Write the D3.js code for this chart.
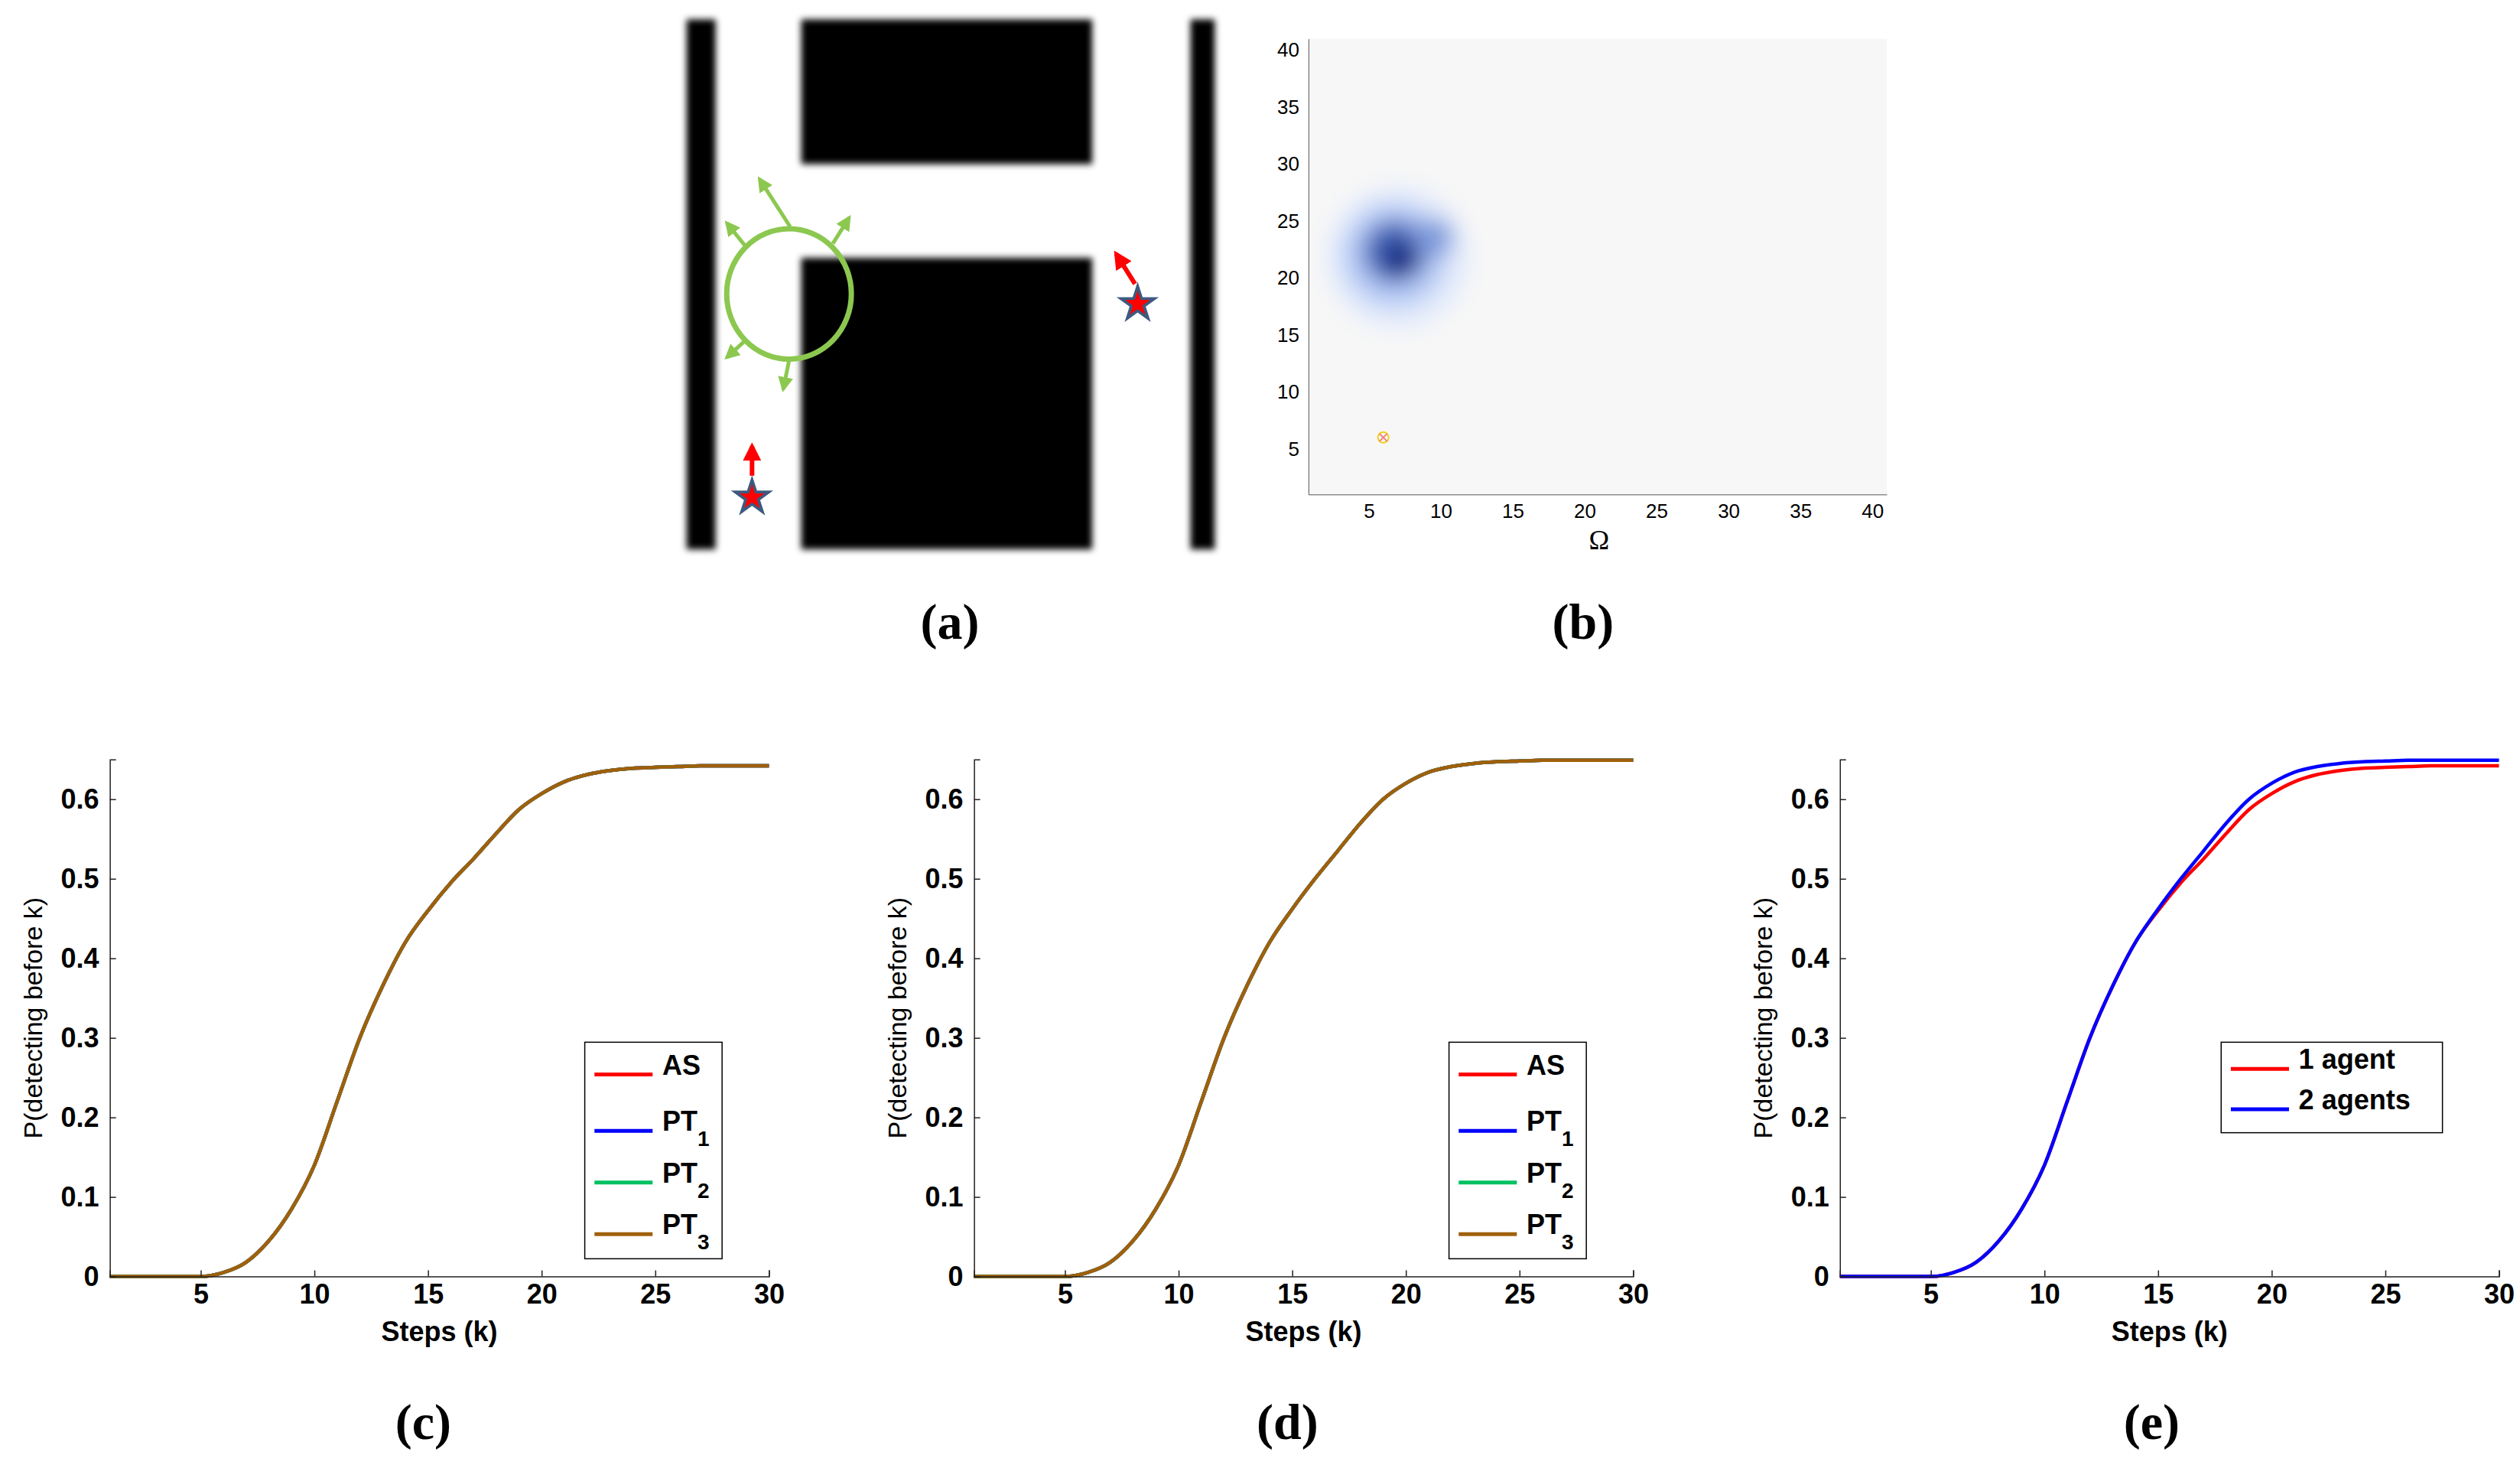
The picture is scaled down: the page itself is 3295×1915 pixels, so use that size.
<!DOCTYPE html>
<html><head><meta charset="utf-8">
<script src="https://cdn.jsdelivr.net/npm/d3@7"></script>
<style>body{margin:0;background:#fff}</style>
</head><body>
<script>
// scale from the reference thumbnail to the page
const S = 3295 / 1560;

const steps = d3.range(1, 31);
const oneAgent = [0,0,0,0,0,0.005,0.018,0.045,0.085,0.14,0.22,0.30,0.365,0.42,0.46,0.495,0.525,0.557,0.587,0.607,0.622,0.631,0.636,0.639,0.640,0.641,0.642,0.642,0.642,0.642];
const twoAgents = [0,0,0,0,0,0.005,0.018,0.045,0.085,0.14,0.22,0.30,0.365,0.42,0.462,0.50,0.535,0.57,0.60,0.62,0.634,0.641,0.645,0.647,0.648,0.649,0.649,0.649,0.649,0.649];
const seriesNames = ["AS", "PT", "PT", "PT"];
const seriesSubs = ["", "1", "2", "3"];
const seriesColors = ["#ff0000", "#0000ff", "#00c060", "#a0600a"];
const xTicks = [5, 10, 15, 20, 25, 30];
const yTicks = [0, 0.1, 0.2, 0.3, 0.4, 0.5, 0.6];
const mapTicks = [5, 10, 15, 20, 25, 30, 35, 40];
// belief blobs in panel b: [x, y, radius, colour]
const blobs = [[7,21.8,5.0,"#e3ebfb"],[6.8,22,3.6,"#b3c8f4"],[6.8,22.3,2.2,"#4466b8"],[7.2,21.8,1.2,"#122a80"],[9.5,23.5,1.4,"#7f9bdc"]];
const panelLabels = [["(a)",588,385],["(b)",980,385],["(c)",262,880],["(d)",797,880],["(e)",1332,880]];

const svg = d3.select("body").append("svg").attr("width", 3295).attr("height", 1915);
const defs = svg.append("defs");
defs.append("filter").attr("id","soft").append("feGaussianBlur").attr("stdDeviation", 4);
defs.append("filter").attr("id","blob").append("feGaussianBlur").attr("stdDeviation", 14);
defs.append("marker").attr("id","ga").attr("viewBox","0 0 10 10").attr("refX",8).attr("refY",5)
  .attr("markerWidth",4).attr("markerHeight",4).attr("orient","auto")
  .append("path").attr("d","M0,0L10,5L0,10z").attr("fill","#8cc850");
defs.append("marker").attr("id","ra").attr("viewBox","0 0 10 10").attr("refX",8).attr("refY",5)
  .attr("markerWidth",4).attr("markerHeight",4).attr("orient","auto")
  .append("path").attr("d","M0,0L10,5L0,10z").attr("fill","#ff0000");

// panel a: the map
const ax = d3.scaleLinear([0, 100], [425*S, 752*S]);
const ay = d3.scaleLinear([0, 100], [12*S, 340*S]);
const pa = svg.append("g");
const walls = [[0,0,5.5,100],[21.7,0,76.8,27.3],[21.7,45,76.8,100],[95.4,0,100,100]];
pa.append("g").attr("filter","url(#soft)").selectAll("rect").data(walls).join("rect")
  .attr("x", d => ax(d[0])).attr("y", d => ay(d[1]))
  .attr("width", d => ax(d[2]) - ax(d[0])).attr("height", d => ay(d[3]) - ay(d[1])).attr("fill","#000");
pa.append("ellipse").attr("cx", ax(19.4)).attr("cy", ay(51.8)).attr("rx", ax(11.8)-ax(0)).attr("ry", ay(12.3)-ay(0))
  .attr("fill","none").attr("stroke","#8cc850").attr("stroke-width",7);
const greenArrows = [[19.6,39.1,13.8,30.1],[11,42.6,7.6,38.4],[27.7,42.3,30.8,37.4],[11,60.7,7.6,63.8],[19.4,64.4,18.3,69.8]];
pa.selectAll(".g").data(greenArrows).join("line")
  .attr("x1", d => ax(d[0])).attr("y1", d => ay(d[1])).attr("x2", d => ax(d[2])).attr("y2", d => ay(d[3]))
  .attr("stroke","#8cc850").attr("stroke-width",5).attr("marker-end","url(#ga)");
const targetArrows = [[12.4,86.1,12.4,80.5],[84.9,49.9,81.3,44.2]];
const targetStars = [[12.4,90.2],[85.4,53.7]];
pa.selectAll(".r").data(targetArrows).join("line")
  .attr("x1", d => ax(d[0])).attr("y1", d => ay(d[1])).attr("x2", d => ax(d[2])).attr("y2", d => ay(d[3]))
  .attr("stroke","#ff0000").attr("stroke-width",6).attr("marker-end","url(#ra)");
targetStars.forEach(t => {
  const g = pa.append("g").attr("transform", `translate(${ax(t[0])},${ay(t[1])})`);
  g.append("path").attr("d", d3.symbol(d3.symbolStar, 950)()).attr("fill","#3d5a80");
  g.append("path").attr("d", d3.symbol(d3.symbolStar, 330)()).attr("fill","#ff0000");
});

// panel b: belief map
const bx = d3.scaleLinear([0.8, 41], [810*S, 1168*S]);
const by = d3.scaleLinear([1, 41], [306*S, 24*S]);
const pb = svg.append("g");
pb.append("rect").attr("x", bx(0.8)).attr("y", by(41)).attr("width", bx(41)-bx(0.8)).attr("height", by(1)-by(41)).attr("fill","#f7f7f7");
pb.append("g").attr("filter","url(#blob)").selectAll("circle").data(blobs).join("circle")
  .attr("cx", d => bx(d[0])).attr("cy", d => by(d[1])).attr("r", d => bx(d[2]) - bx(0)).attr("fill", d => d[3]);
pb.append("circle").attr("cx", bx(6)).attr("cy", by(6)).attr("r",7).attr("fill","none").attr("stroke","#f5d020").attr("stroke-width",2);
pb.append("path").attr("transform", `translate(${bx(6)},${by(6)})`).attr("d","M-5,-5L5,5M-5,5L5,-5").attr("stroke","#f08080").attr("stroke-width",2);
pb.append("g").attr("transform", `translate(0,${by(1)})`).call(d3.axisBottom(bx).tickValues(mapTicks).tickSize(0).tickPadding(12))
  .call(g => g.select(".domain").attr("stroke","#555"));
pb.append("g").attr("transform", `translate(${bx(0.8)},0)`).call(d3.axisLeft(by).tickValues(mapTicks).tickSize(0).tickPadding(12))
  .call(g => g.select(".domain").attr("stroke","#555"));
pb.selectAll(".tick text").attr("font-family","Liberation Sans, Arial").attr("font-size",26).attr("fill","#000");
pb.append("text").attr("x", bx(21)).attr("y", 340*S).attr("text-anchor","middle")
  .attr("font-family","Liberation Serif, Times New Roman").attr("font-size",36).text("Ω");

// panels c, d, e: detection curves
function curvePanel(left, series, names, subs, colors, legendBox) {
  const x = d3.scaleLinear([1, 30], [left*S, (left+408)*S]);
  const y = d3.scaleLinear([0, 0.65], [790*S, 470*S]);
  const g = svg.append("g");
  const line = d3.line().x((d, i) => x(steps[i])).y(d => y(d)).curve(d3.curveMonotoneX);
  series.forEach((s, i) => g.append("path").attr("d", line(s)).attr("fill","none")
    .attr("stroke", colors[i]).attr("stroke-width",4.5));
  g.append("g").attr("transform", `translate(0,${y(0)})`)
    .call(d3.axisBottom(x).tickValues(xTicks).tickSize(-8).tickPadding(10));
  g.append("g").attr("transform", `translate(${x(1)},0)`)
    .call(d3.axisLeft(y).tickValues(yTicks).tickFormat(d => d === 0 ? "0" : d3.format(".1f")(d)).tickSize(-8).tickPadding(14));
  g.selectAll(".domain, .tick line").attr("stroke","#222").attr("stroke-width",1.5);
  g.selectAll(".tick text").attr("font-family","Liberation Sans, Arial").attr("font-weight","bold").attr("font-size",36).attr("fill","#000");
  g.append("text").attr("x", x(15.5)).attr("y", 830*S).attr("text-anchor","middle")
    .attr("font-family","Liberation Sans, Arial").attr("font-weight","bold").attr("font-size",36).text("Steps (k)");
  g.append("text").attr("transform", `translate(${(left-42)*S},${630*S}) rotate(-90)`).attr("text-anchor","middle")
    .attr("font-family","Liberation Sans, Arial").attr("font-size",34).text("P(detecting before k)");
  const [bx0, by0, bw, rowH] = legendBox;
  const lg = g.append("g").attr("transform", `translate(${(left+bx0)*S},${by0*S})`);
  lg.append("rect").attr("width", bw*S).attr("height", (rowH*names.length+6)*S).attr("fill","#fff").attr("stroke","#000").attr("stroke-width",1.5);
  names.forEach((n, i) => {
    const cy = (rowH*i + rowH/2 + 4)*S + (subs[i] ? 6 : 0);
    lg.append("line").attr("x1", 6*S).attr("x2", 42*S).attr("y1", cy).attr("y2", cy).attr("stroke", colors[i]).attr("stroke-width",5);
    const t = lg.append("text").attr("x", 48*S).attr("y", cy).attr("font-family","Liberation Sans, Arial")
      .attr("font-weight","bold").attr("font-size",36).text(n);
    if (subs[i]) t.append("tspan").attr("dy", 20).attr("font-size",28).text(subs[i]);
  });
}
curvePanel(68, [oneAgent, oneAgent, oneAgent, oneAgent], seriesNames, seriesSubs, seriesColors, [294, 645, 85, 32]);
curvePanel(603, [twoAgents, twoAgents, twoAgents, twoAgents], seriesNames, seriesSubs, seriesColors, [294, 645, 85, 32]);
curvePanel(1139, [oneAgent, twoAgents], ["1 agent", "2 agents"], ["", ""], ["#ff0000", "#0000ff"], [236, 645, 137, 25]);

svg.selectAll(".plab").data(panelLabels).join("text")
  .attr("x", d => d[1]*S).attr("y", d => d[2]*S + 22).attr("text-anchor","middle")
  .attr("font-family","Liberation Serif, Times New Roman").attr("font-weight","bold").attr("font-size",66).text(d => d[0]);
</script>
</body></html>
